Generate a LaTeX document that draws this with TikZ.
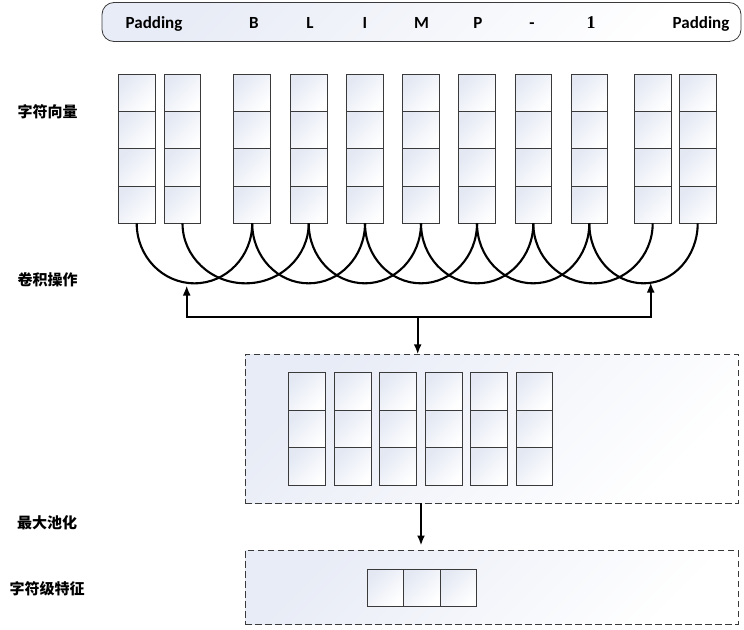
\documentclass[tikz,border=0pt]{standalone}
\usepackage{fontspec}
\setmainfont{Carlito}
\newfontfamily\cjk{Noto Sans CJK SC}
\newfontfamily\serifone{Liberation Serif}
\usetikzlibrary{arrows.meta,calc}
\definecolor{cellshade}{HTML}{E3E8F3}
\definecolor{boxshade}{HTML}{E8ECF6}
\definecolor{edgegray}{HTML}{3A3A3A}
\begin{document}
\begin{tikzpicture}[x=1pt,y=-1pt,
  cell/.style={draw=edgegray, line width=0.9pt, inner sep=0pt, outer sep=0pt,
    minimum width=36.7pt, minimum height=37.3pt,
    top color=cellshade, bottom color=white, shading angle=45},
  dbox/.style={draw=edgegray, line width=0.8pt, dash pattern=on 6.5pt off 3.5pt,
    inner sep=0pt, outer sep=0pt,
    top color=boxshade, bottom color=white, shading angle=45},
  bar/.style={draw=edgegray, line width=0.8pt, rounded corners=12pt, inner sep=0pt,
    top color=boxshade, bottom color=white, shading angle=45},
  tok/.style={anchor=base, inner sep=0pt, font=\fontsize{17}{20}\selectfont\bfseries},
  lab/.style={inner sep=0pt, font=\fontsize{15}{18}\selectfont\cjk\bfseries},
  arcline/.style={line width=2.1pt, black},
  conn/.style={line width=2.1pt, black},
  tip/.style={-{Latex[length=10pt,width=8pt]}}
]
\useasboundingbox (0,0) rectangle (744,629);

% top bar with tokens
\node[bar, minimum width=639pt, minimum height=39pt] (bar) at (421.5,22) {};
\node[tok] (t0) at (154,28) {Padding};
\node[tok] (t1) at (254,28) {B};
\node[tok] (t2) at (310,28) {L};
\node[tok] (t3) at (365,28) {I};
\node[tok] (t4) at (421.5,28) {M};
\node[tok] (t5) at (478,28) {P};
\node[tok] (t6) at (532,28) {-};
\node[tok, font=\fontsize{18}{20}\selectfont\serifone\bfseries] (t7) at (591,28) {1};
\node[tok] (t8) at (701,28) {Padding};

% labels
\node[lab] (l1) at (47.5,112) {字符向量};
\node[lab] (l2) at (47.5,280) {卷积操作};
\node[lab] (l3) at (47,523) {最大池化};
\node[lab] (l4) at (47,589) {字符级特征};

% character vector columns
\foreach \i/\x in {1/136.7,2/182.5,3/252.2,4/308.7,5/365,6/421,7/477,8/533.3,9/589.3,10/652.7,11/697.7}{
  \foreach \j in {1,...,4}{
    \node[cell] (c\i-\j) at (\x,{74.3+37.25*(\j-0.5)}) {};
  }
}

% convolution arcs
\foreach \a/\b in {1/3,2/4,3/5,4/6,5/7,6/8,7/9,8/10,9/11}{
  \draw[arcline] let \p1=(c\a-4.south), \p2=(c\b-4.south) in
    (\p1) arc[start angle=180, end angle=360, x radius={(\x2-\x1)/2}, y radius=60pt];
}

% pooling boxes
\node[dbox, minimum width=493pt, minimum height=149pt] (box1) at (491.5,428.8) {};
\node[dbox, minimum width=493pt, minimum height=73.3pt] (box2) at (491.5,587.4) {};

\foreach \i/\x in {1/307.05,2/352.65,3/398.05,4/443.65,5/489.05,6/534.35}{
  \foreach \j in {1,2,3}{
    \node[cell, minimum height=37.5pt] (p\i-\j) at (\x,{372.7+37.5*(\j-0.5)}) {};
  }
}
\foreach \i/\x in {1/385.5,2/421.9,3/458.3}{
  \node[cell, minimum width=36.4pt, minimum height=37pt] (f\i) at (\x,587.5) {};
}

% connectors
\coordinate (tl) at (186.7,285.5);
\coordinate (tr) at (650.7,282.5);
\coordinate (hl) at (186.7,317.3);
\coordinate (hr) at (650.7,317.3);
\coordinate (hm) at (417.7,317.3);
\coordinate (dn) at (421,545.5);
\draw[conn, {Latex[length=10pt,width=8pt]}-{Latex[length=10pt,width=8pt]}] (tl) -- (hl) -- (hr) -- (tr);
\draw[conn, tip] (hm) -- (hm |- box1.north);
\draw[conn, tip] (dn |- box1.south) -- (dn);
\end{tikzpicture}
\end{document}
